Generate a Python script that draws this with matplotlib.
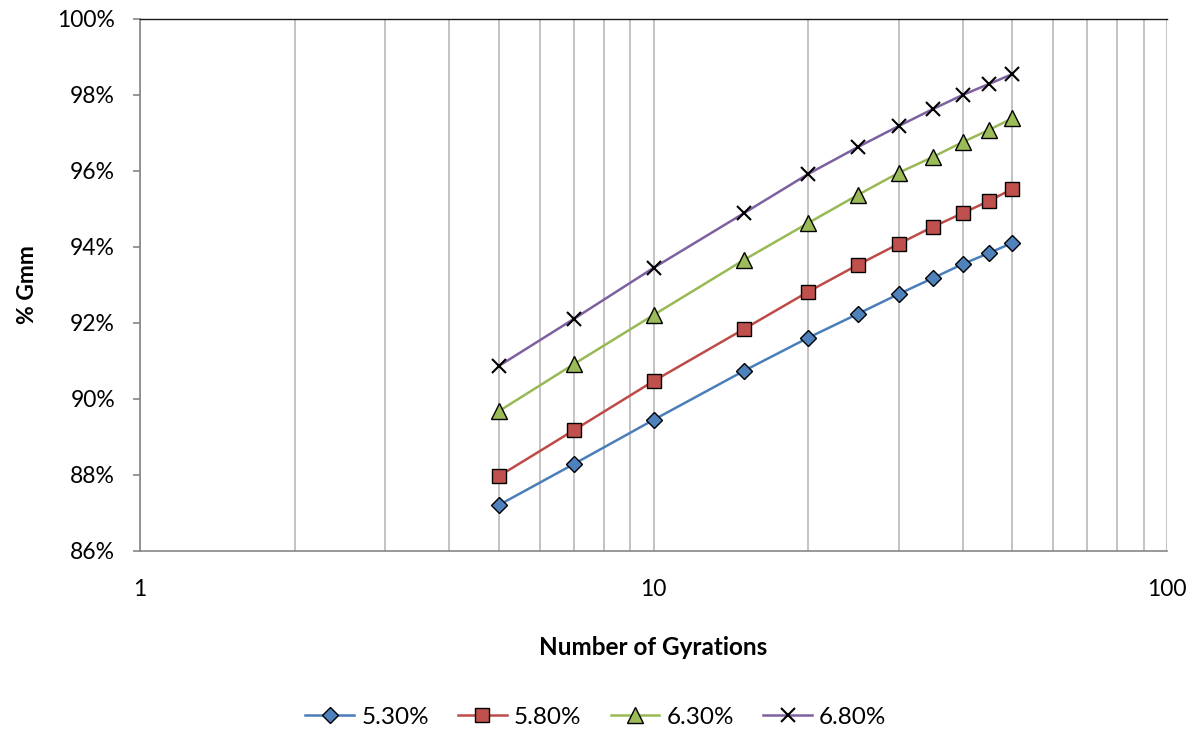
import numpy as np
import matplotlib.pyplot as plt
from matplotlib.ticker import FixedLocator, NullFormatter, FuncFormatter

plt.rcParams['font.family'] = ['Lato', 'DejaVu Sans']

gyrations = [5, 7, 10, 15, 20, 25, 30, 35, 40, 45, 50]

gmm_530 = [87.21, 88.29, 89.45, 90.74, 91.61, 92.24, 92.76, 93.18, 93.55, 93.84, 94.11]
gmm_580 = [87.97, 89.18, 90.47, 91.84, 92.82, 93.53, 94.08, 94.53, 94.89, 95.21, 95.53]
gmm_630 = [89.68, 90.92, 92.21, 93.66, 94.63, 95.37, 95.95, 96.37, 96.76, 97.08, 97.39]
gmm_680 = [90.87, 92.11, 93.45, 94.89, 95.92, 96.63, 97.18, 97.63, 98.00, 98.29, 98.55]

labels = ['5.30%', '5.80%', '6.30%', '6.80%']

fig = plt.figure(figsize=(11.98, 7.36), dpi=100)
ax = fig.add_axes([140/1198, 1 - 551/736, (1167-140)/1198, (551-19)/736])

ax.set_xscale('log')
ax.set_xlim(1, 100)
ax.set_ylim(86, 100)

# gridlines, major and minor, vertical only
ax.xaxis.set_major_locator(FixedLocator([1, 10, 100]))
minor = [m * d for d in (1, 10) for m in range(2, 10)]
ax.xaxis.set_minor_locator(FixedLocator(minor))
ax.xaxis.set_minor_formatter(NullFormatter())
ax.xaxis.set_major_formatter(FuncFormatter(lambda v, p: '%g' % v))
ax.grid(True, which='both', axis='x', color='#b9b9b9', linewidth=1.2)
ax.set_axisbelow(True)

ax.set_yticks(np.arange(86, 101, 2))
ax.yaxis.set_major_formatter(FuncFormatter(lambda v, p: '%d%%' % v))

fs = 16.5
ax.tick_params(axis='x', which='both', length=0, pad=20, labelsize=fs)
ax.tick_params(axis='y', length=5, color='#868686', width=1.2, pad=13, labelsize=fs)

for s in ['left', 'bottom']:
    ax.spines[s].set_color('#868686')
    ax.spines[s].set_linewidth(1.2)
ax.spines['top'].set_color('#1a1a1a')
ax.spines['top'].set_linewidth(1.0)
ax.spines['right'].set_visible(False)

ms = 10
ax.plot(gyrations, gmm_530, color='#4a7ebb', lw=1.8, marker='D', ms=8.5,
        mfc='#4f81bd', mec='black', mew=1.0, label=labels[0])
ax.plot(gyrations, gmm_580, color='#be4b48', lw=1.8, marker='s', ms=ms,
        mfc='#c0504d', mec='black', mew=1.0, label=labels[1])
ax.plot(gyrations, gmm_630, color='#98b954', lw=1.8, marker='^', ms=ms + 1,
        mfc='#9bbb59', mec='black', mew=1.0, label=labels[2])
ax.plot(gyrations, gmm_680, color='#7d60a0', lw=1.8, marker='x', ms=ms,
        mfc='black', mec='black', mew=1.5, label=labels[3])

ax.set_xlabel('Number of Gyrations', fontsize=17.5, fontweight='bold', labelpad=26)
ax.set_ylabel('% Gmm', fontsize=fs, fontweight='bold', labelpad=14)

fig.legend(loc='center', bbox_to_anchor=(596/1198, 1 - 717/736), ncol=4,
           frameon=False, fontsize=17.5, handlelength=2.0, columnspacing=1.2,
           handletextpad=0.3)

fig.savefig('out.png', dpi=100)
